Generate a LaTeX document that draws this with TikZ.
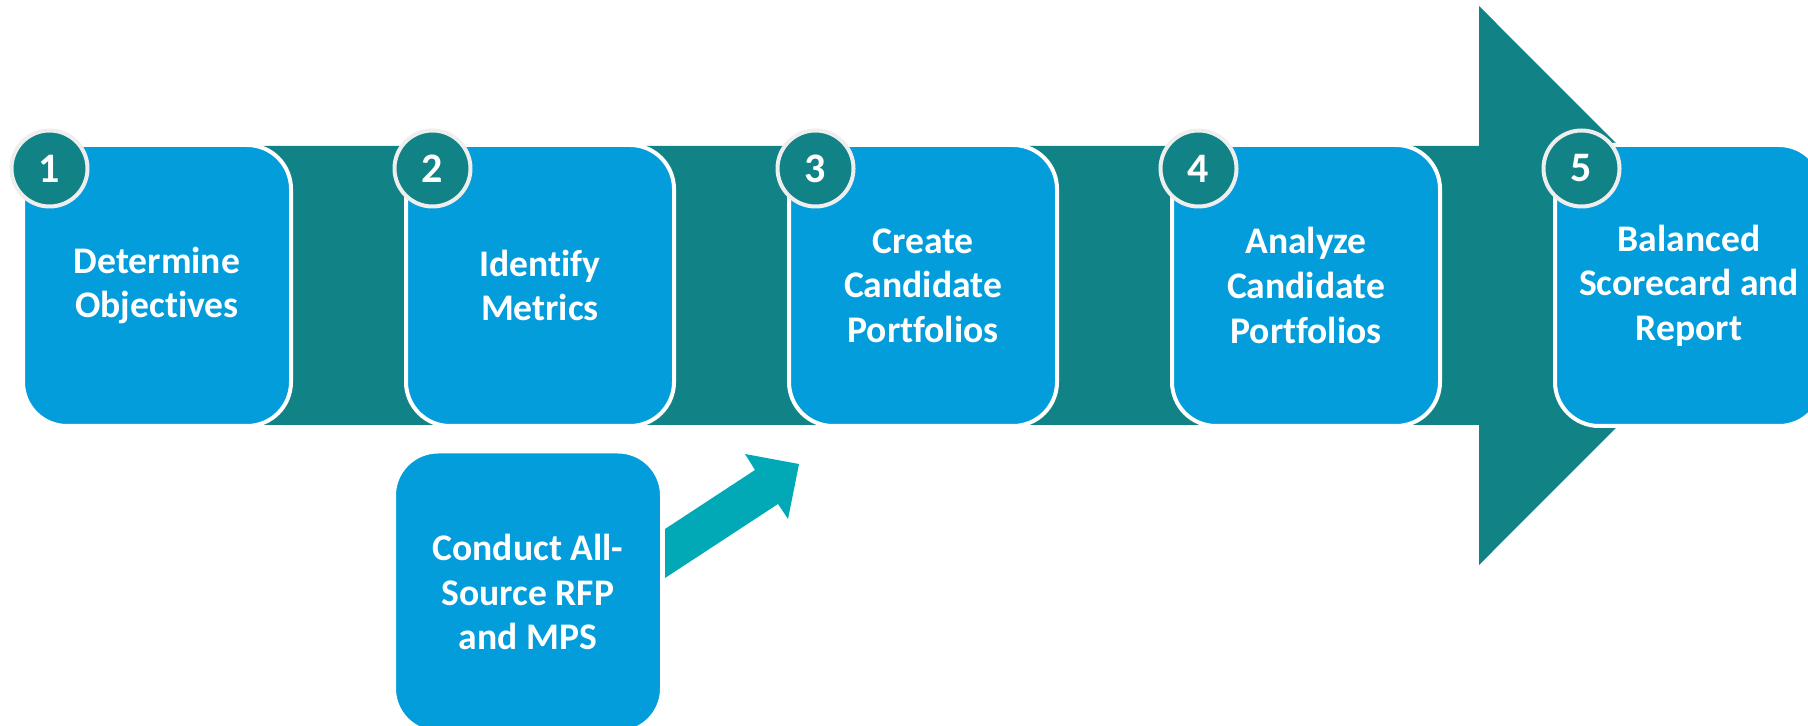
\documentclass[tikz,border=0pt]{standalone}
\usepackage{fontspec}
\setmainfont{Carlito}[Ligatures=NoCommon]

\definecolor{bandteal}{HTML}{118285}
\definecolor{stepblue}{HTML}{039DDC}
\definecolor{feedteal}{HTML}{00A9B5}
\definecolor{ringgray}{HTML}{EEEEEE}

\tikzset{
    every stepbox/.style={rectangle, rounded corners=22pt, fill=stepblue,
        draw=white, line width=2pt, minimum width=134pt, minimum height=140.5pt,
        inner sep=0pt, text=white, align=center,
        font=\bfseries\fontsize{18.8}{22.3}\selectfont},
    every badge/.style={circle, fill=bandteal, draw=ringgray, line width=2pt,
        minimum size=38pt, inner sep=0pt, text=white,
        font=\bfseries\fontsize{21}{24}\selectfont},
}

\begin{document}
\begin{tikzpicture}[x=0.5pt, y=-0.5pt, >=stealth]
        \clip (0,0) rectangle (1808,726);
        \useasboundingbox (0,0) rectangle (1808,726);

        %%%%%%%%%%%%%%%%%%%%%%%%%%%%%%%%%%%%%%%%%%%%
        % Main arrow
        %%%%%%%%%%%%%%%%%%%%%%%%%%%%%%%%%%%%%%%%%%%%
        \fill [bandteal] (157,146) -- (1479,146) -- (1479,6) -- (1758,285.5)
            -- (1479,565) -- (1479,425) -- (157,425) -- cycle;


        %%%%%%%%%%%%%%%%%%%%%%%%%%%%%%%%%%%%%%%%%%%%
        % Step boxes
        %%%%%%%%%%%%%%%%%%%%%%%%%%%%%%%%%%%%%%%%%%%%

        % Drawing
        \foreach \l [count=\i] in {{Determine\\Objectives}, {Identify\\Metrics},
                {Create\\Candidate\\Portfolios}, {Analyze\\Candidate\\Portfolios},
                {Balanced\\Scorecard and\\Report}}
            \node [every stepbox/.try] (step-\i) at (157+383*\i-383,285.5) {\l};

        % Numbering
        \foreach \i in {1,...,5}
            \node [every badge/.try] (badge-\i)
                at ([shift={(28.5,25.5)}]step-\i.north west) {\i};


        %%%%%%%%%%%%%%%%%%%%%%%%%%%%%%%%%%%%%%%%%%%%
        % Procurement input
        %%%%%%%%%%%%%%%%%%%%%%%%%%%%%%%%%%%%%%%%%%%%
        \node [every stepbox/.try] (rfp) at (528,592)
            {Conduct All-\\Source RFP\\and MPS};

        % Arrow into step 3
        \fill [feedteal] (665,529) -- (755,470) -- (745,454) -- (799,464)
            -- (788,519) -- (778,504) -- (665,578) -- cycle;
\end{tikzpicture}
\end{document}
